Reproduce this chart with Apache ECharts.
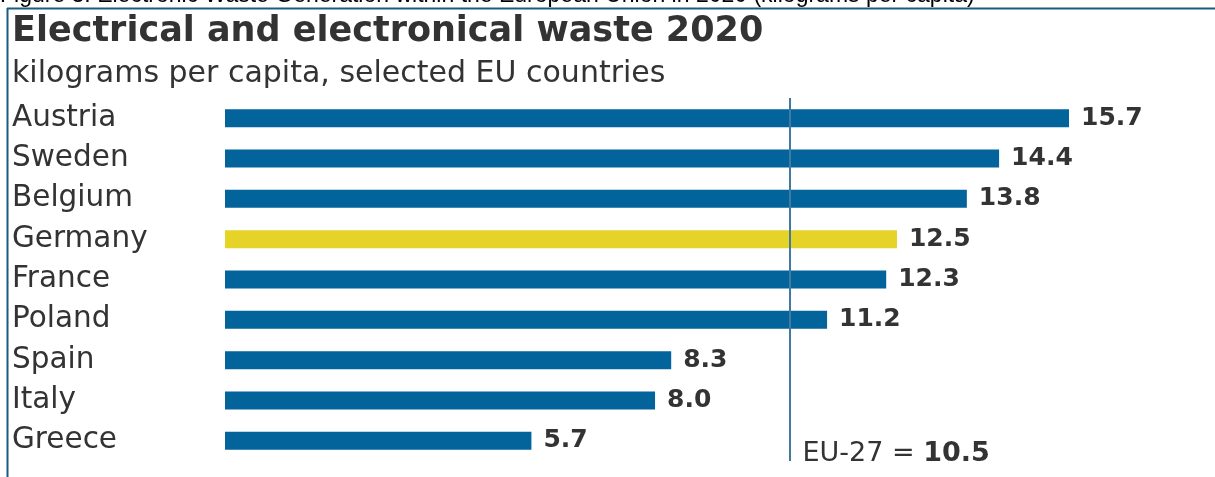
<!DOCTYPE html>
<html><head><meta charset="utf-8">
<script src="https://cdn.jsdelivr.net/npm/echarts@6/dist/echarts.min.js"></script>
<style>html,body{margin:0;padding:0;background:#fff}#c{width:1215px;height:477px}</style>
</head><body><div id="c"></div>
<script>
const categories = ['Austria','Sweden','Belgium','Germany','France','Poland','Spain','Italy','Greece'];
const values = [15.7, 14.4, 13.8, 12.5, 12.3, 11.2, 8.3, 8.0, 5.7];
const highlighted = 'Germany';
const euLabel = 'EU-27';
const euAverage = 10.5;
const captionText = 'Figure 3: Electronic Waste Generation within the European Union in 2020 (kilograms per capita)';
const titleText = 'Electrical and electronical waste 2020';
const subtitleText = 'kilograms per capita, selected EU countries';

const BLUE = '#03639b', YELLOW = '#e6d327', TEXT = '#333333', FRAME = '#1b5b82';
const chart = echarts.init(document.getElementById('c'), null, {renderer: 'canvas'});
chart.setOption({
  animation: false,
  backgroundColor: '#fff',
  title: [
    {text: titleText, left: 12, top: 14, padding: 0,
     textStyle: {fontFamily: 'DejaVu Sans', fontWeight: 'bold', fontSize: 35, color: TEXT}},
    {text: subtitleText, left: 12, top: 59, padding: 0,
     textStyle: {fontFamily: 'DejaVu Sans', fontWeight: 'normal', fontSize: 30, color: TEXT}}
  ],
  graphic: [
    {type: 'text', left: 0, top: -16, silent: true,
     style: {text: captionText, fontFamily: 'Liberation Sans', fontSize: 23, fill: '#000'}},
    {type: 'line', silent: true, shape: {x1: 7, y1: 8.5, x2: 1215, y2: 8.5}, style: {stroke: FRAME, lineWidth: 2}},
    {type: 'line', silent: true, shape: {x1: 7.5, y1: 8, x2: 7.5, y2: 477}, style: {stroke: FRAME, lineWidth: 2}}
  ],
  grid: {left: 225, right: 103, top: 98, bottom: 16, containLabel: false},
  xAxis: {type: 'value', min: 0, max: 16.5, show: false},
  yAxis: {
    type: 'category', data: categories, inverse: true,
    axisLine: {show: false}, axisTick: {show: false}, splitLine: {show: false},
    axisLabel: {align: 'left', margin: 213, fontFamily: 'DejaVu Sans', fontSize: 29.5, color: TEXT}
  },
  series: [{
    type: 'bar', barWidth: 18, silent: true,
    data: categories.map((c, i) => ({value: values[i], itemStyle: {color: c === highlighted ? YELLOW : BLUE}})),
    label: {show: true, position: 'right', distance: 12, fontFamily: 'DejaVu Sans', fontWeight: 'bold',
            fontSize: 25, color: TEXT, formatter: p => p.value.toFixed(1)},
    markLine: {
      silent: true, symbol: ['none', 'none'], z: 10,
      lineStyle: {color: '#4279a1', width: 2, type: 'solid', opacity: 1},
      data: [{xAxis: euAverage}],
      label: {position: 'end', distance: 6, align: 'left', verticalAlign: 'bottom', padding: [0, 0, 0, 13],
        color: TEXT, opacity: 1,
        formatter: () => '{a|' + euLabel + ' = }{b|' + euAverage.toFixed(1) + '}',
        rich: {a: {fontFamily: 'DejaVu Sans', fontSize: 27, color: TEXT},
               b: {fontFamily: 'DejaVu Sans', fontWeight: 'bold', fontSize: 27, color: TEXT}}}
    }
  }]
});
</script></body></html>
